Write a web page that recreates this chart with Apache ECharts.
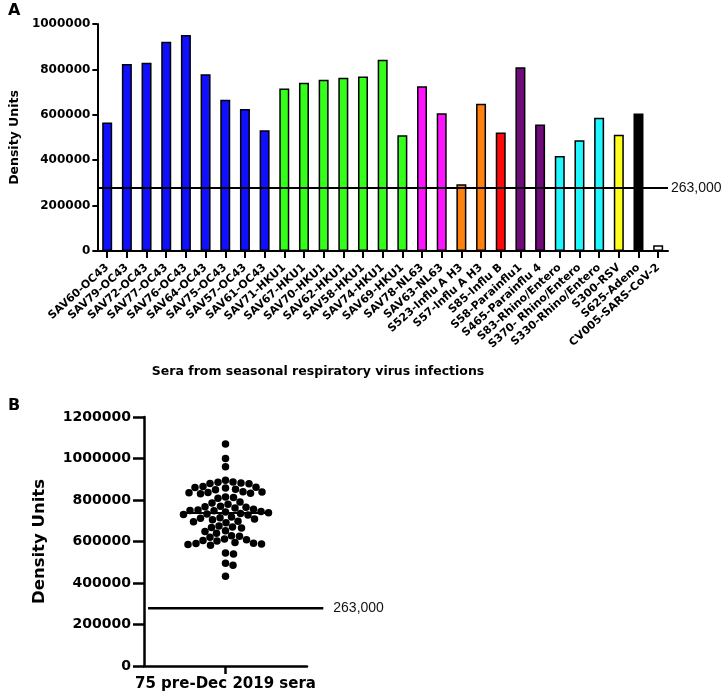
<!DOCTYPE html>
<html><head><meta charset="utf-8">
<script src="https://cdn.jsdelivr.net/npm/echarts@6/dist/echarts.min.js"></script>
<style>html,body{margin:0;padding:0;background:#fff}#c{width:722px;height:699px}</style>
</head><body><div id="c"></div>
<script>
// ---- Data ----
const categories = ["SAV60-OC43","SAV79-OC43","SAV72-OC43","SAV77-OC43","SAV76-OC43","SAV64-OC43","SAV75-OC43","SAV57-OC43","SAV61-OC43",
  "SAV71-HKU1","SAV67-HKU1","SAV70-HKU1","SAV62-HKU1","SAV58-HKU1","SAV74-HKU1","SAV69-HKU1",
  "SAV78-NL63","SAV63-NL63","S523-Influ A H3","S57-Influ A H3","S85-Influ B","S58-Parainflu1","S465-Parainflu 4",
  "S83-Rhino/Entero","S370- Rhino/Entero","S330-Rhino/Entero","S300-RSV","S625-Adeno","CV005-SARS-CoV-2"];
const barValues = [566000,824000,829000,922000,951000,779000,666000,626000,532000,
  716000,741000,754000,763000,769000,843000,510000,
  726000,607000,294000,649000,522000,810000,557000,
  419000,488000,587000,512000,606000,25000];
const barGroups = ["OC43","OC43","OC43","OC43","OC43","OC43","OC43","OC43","OC43",
  "HKU1","HKU1","HKU1","HKU1","HKU1","HKU1","HKU1",
  "NL63","NL63","FluA","FluA","FluB","Para","Para",
  "Rhino","Rhino","Rhino","RSV","Adeno","SARS2"];
const groupColors = {OC43:"#1010ff",HKU1:"#33ff1a",NL63:"#ff14ff",FluA:"#ff8210",FluB:"#ff0a0a",
  Para:"#710a7a",Rhino:"#22f6ff",RSV:"#ffff1e",Adeno:"#000000",SARS2:"#ffffff"};
const thresholdValue = 278000;
const thresholdLabel = "263,000";
const xTitleA = "Sera from seasonal respiratory virus infections";
const yTitle = "Density Units";
const categoryB = ["75 pre-Dec 2019 sera"];
const preDecValues = [1070000,1000000,960000,
  895000,887000,885000,882000,880000,878000,
  865000,862000,860000,858000,852000,850000,
  840000,838000,836000,835000,833000,830000,
  815000,812000,808000,
  790000,785000,780000,
  770000,768000,765000,762000,
  755000,752000,750000,748000,745000,742000,
  738000,735000,732000,730000,728000,
  718000,715000,712000,708000,705000,
  698000,695000,690000,
  675000,670000,668000,665000,
  652000,648000,640000,
  628000,625000,620000,
  612000,608000,605000,603000,
  595000,592000,590000,588000,585000,582000,
  545000,540000,
  495000,485000,
  432000];

// ---- Chart ----
const F = "DejaVu Sans";
const chart = echarts.init(document.getElementById('c'), null, {renderer:'canvas'});
const sorted = preDecValues.slice().sort((a,b)=>a-b);
const median = (sorted[(sorted.length-1)>>1] + sorted[sorted.length>>1]) / 2;
const plain = v => String(v);

const axisLine = w => ({show:true, onZero:false, lineStyle:{color:'#000', width:w}});
const txt = (text, size, weight, extra) => Object.assign({text, fontSize:size, fontWeight:weight, fontFamily:F, fill:'#000'}, extra||{});

const option = {
  animation:false,
  backgroundColor:'#fff',
  grid:[
    {left:89, right:54, top:24, height:227},
    {left:144, right:415, top:417, height:249}
  ],
  xAxis:[
    {type:'category', gridIndex:0, data:categories, boundaryGap:true,
     axisLine:axisLine(2), axisTick:{show:true, alignWithLabel:true, length:7, lineStyle:{color:'#000', width:2}},
     axisLabel:{interval:0, rotate:42, margin:15, color:'#000', fontFamily:F, fontWeight:'bold', fontSize:11},
     splitLine:{show:false}},
    {type:'category', gridIndex:1, data:categoryB, boundaryGap:true,
     axisLine:axisLine(2.5), axisTick:{show:true, alignWithLabel:true, length:8, lineStyle:{color:'#000', width:2.5}},
     axisLabel:{margin:11, color:'#000', fontFamily:F, fontWeight:'bold', fontSize:15},
     splitLine:{show:false}},
    {type:'value', gridIndex:1, min:-1, max:1, show:false}
  ],
  yAxis:[
    {type:'value', gridIndex:0, min:0, max:1000000, interval:200000,
     name:yTitle, nameLocation:'middle', nameRotate:90, nameGap:64,
     nameTextStyle:{color:'#000', fontFamily:F, fontWeight:'bold', fontSize:12.5},
     axisLine:axisLine(2), axisTick:{show:true, length:5, lineStyle:{color:'#000', width:2}},
     axisLabel:{margin:7, color:'#000', fontFamily:F, fontWeight:'bold', fontSize:12, formatter:plain},
     splitLine:{show:false}},
    {type:'value', gridIndex:1, min:0, max:1200000, interval:200000,
     name:yTitle, nameLocation:'middle', nameRotate:90, nameGap:96,
     nameTextStyle:{color:'#000', fontFamily:F, fontWeight:'bold', fontSize:16.5},
     axisLine:axisLine(2.5), axisTick:{show:true, length:11, lineStyle:{color:'#000', width:2.5}},
     axisLabel:{margin:13, color:'#000', fontFamily:F, fontWeight:'bold', fontSize:14, formatter:plain},
     splitLine:{show:false}}
  ],
  series:[
    {type:'bar', xAxisIndex:0, yAxisIndex:0, barWidth:10,
     data: barValues.map((v,i)=>({value:v, itemStyle:{color:groupColors[barGroups[i]]}})),
     itemStyle:{borderColor:'#000', borderWidth:1.5},
     markLine:{silent:true, symbol:'none', animation:false,
       lineStyle:{color:'#000', width:2, type:'solid'},
       label:{show:true, position:'end', formatter:thresholdLabel, distance:3, color:'#111', fontFamily:'Liberation Sans', fontSize:14},
       data:[{yAxis:thresholdValue}]}},
    {type:'scatter', xAxisIndex:2, yAxisIndex:1, symbol:'circle', symbolSize:7.5,
     itemStyle:{color:'#000', opacity:1}, data: preDecValues.map(v=>[0,v]),
     markLine:{silent:true, symbol:'none', animation:false, z:1,
       lineStyle:{color:'#000', width:2, type:'solid'}, label:{show:false},
       data:[[{coord:[-0.55, median]},{coord:[0.55, median]}]]}}
  ],
  graphic:[
    {type:'text', left:8, top:3, style:txt('A', 16, 'bold')},
    {type:'text', left:8, top:398, style:txt('B', 16, 'bold')},
    {type:'text', x:318, y:372, style:txt(xTitleA, 12.5, 'bold', {align:'center', verticalAlign:'middle'})}
  ]
};
chart.setOption(option);

// Beeswarm layout of the dot plot (pixel space, via the chart's scales)
const order = preDecValues.map((v,i)=>i).sort((a,b)=>preDecValues[b]-preDecValues[a]);
const diam = 7.6;
const placed = [];
const offs = new Array(preDecValues.length).fill(0);
order.forEach(i=>{
  const py = chart.convertToPixel({xAxisIndex:2, yAxisIndex:1}, [0, preDecValues[i]])[1];
  let chosen = 0;
  for (let k=0;k<400;k++){
    const cands = k===0 ? [0] : [k*0.5, -k*0.5];
    let ok = null;
    for (const c of cands){
      if (placed.every(p => (p.x-c)*(p.x-c)+(p.y-py)*(p.y-py) >= diam*diam)) { ok = c; break; }
    }
    if (ok !== null){ chosen = ok; break; }
  }
  placed.push({x:chosen, y:py});
  offs[i] = chosen;
});
const p0 = chart.convertToPixel({xAxisIndex:2, yAxisIndex:1}, [0, 0]);
const p1 = chart.convertToPixel({xAxisIndex:2, yAxisIndex:1}, [1, 0]);
const unit = p1[0]-p0[0];
const thrA = chart.convertToPixel({xAxisIndex:2, yAxisIndex:1}, [-0.95, thresholdValue]);
const thrB = chart.convertToPixel({xAxisIndex:2, yAxisIndex:1}, [1.2, thresholdValue]);
chart.setOption({
  series:[{}, {data: preDecValues.map((v,i)=>[offs[i]/unit, v])}],
  graphic:[{}, {}, {},
    {type:'line', shape:{x1:thrA[0], y1:thrA[1], x2:thrB[0], y2:thrB[1]}, style:{stroke:'#000', lineWidth:2.5}},
    {type:'text', x:thrB[0]+10, y:thrB[1], style:{text:thresholdLabel, fontSize:14, fontFamily:'Liberation Sans', fill:'#111', verticalAlign:'middle'}}
  ]
});
</script></body></html>
